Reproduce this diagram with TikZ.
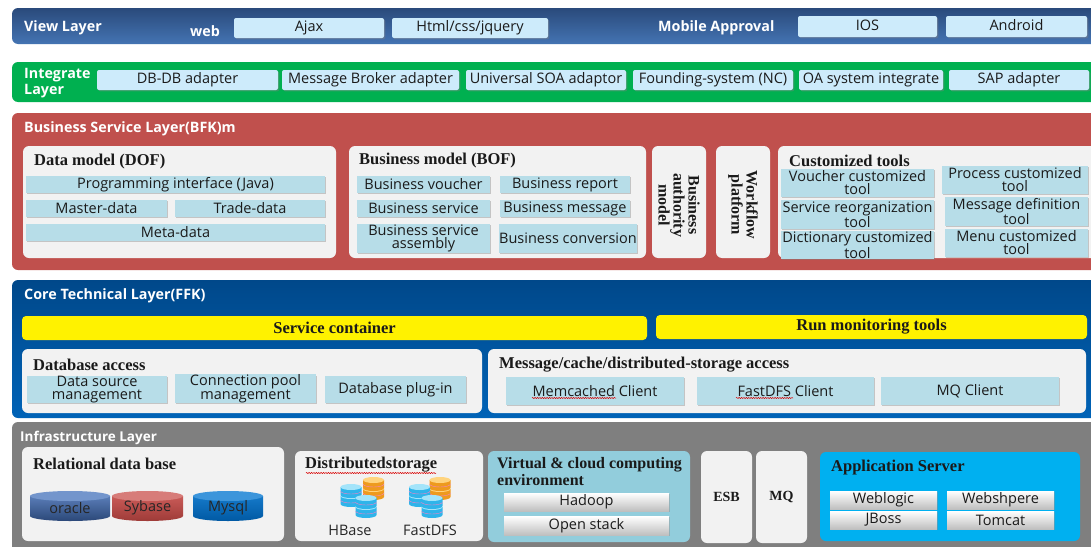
\documentclass[tikz,border=0pt]{standalone}
\usepackage{fontspec}
\setmainfont{Liberation Serif}
\newfontfamily\sansf{Open Sans}
\usetikzlibrary{shadows,decorations.pathmorphing}
\definecolor{viewA}{HTML}{2A4A7B}
\definecolor{viewB}{HTML}{4474B3}
\definecolor{intG}{HTML}{00B050}
\definecolor{busR}{HTML}{C0504D}
\definecolor{coreA}{HTML}{00488A}
\definecolor{coreB}{HTML}{0063B7}
\definecolor{infraG}{HTML}{7F7F7F}
\definecolor{panelG}{HTML}{F2F2F2}
\definecolor{itemV}{HTML}{CDEBFB}
\definecolor{itemB}{HTML}{B7DDE8}
\definecolor{virtB}{HTML}{92CDDC}
\definecolor{appB}{HTML}{00B0F0}
\definecolor{txt}{HTML}{1A1A1A}
\definecolor{oraT}{HTML}{5A7DB8}
\definecolor{oraB}{HTML}{2B4878}
\definecolor{oraC}{HTML}{7395CC}
\definecolor{sybT}{HTML}{C95A57}
\definecolor{sybB}{HTML}{9E3B38}
\definecolor{sybC}{HTML}{D77C79}
\definecolor{myT}{HTML}{1579C9}
\definecolor{myB}{HTML}{0059A3}
\definecolor{myC}{HTML}{3C95DB}
\definecolor{cyD}{HTML}{2FB4EA}
\definecolor{cyL}{HTML}{A3E4FA}
\definecolor{orD}{HTML}{EE9A1E}
\definecolor{orL}{HTML}{FFD47E}
\newcommand\bx[7]{\node[box,#6,minimum width={(#4-(#2))*1pt},minimum height={(#5-(#3))*1pt}] (#1) at ({(#2+#4)/2},{(#3+#5)/2}) {#7};}
\newcommand\bigcyl[7]{%
  \path[#6] ({#1-#4},{#2}) -- ({#1-#4},{#3}) arc[start angle=180,end angle=360,x radius=#4pt,y radius=#5pt] -- ({#1+#4},{#2}) -- cycle;
  \path[#7] ({#1},{#2}) ellipse[x radius=#4pt,y radius=#5pt];}
\newcommand\dbdisk[4]{%
  \path[#3] ({#1-10.5},{#2}) -- ({#1-10.5},{#2+8}) arc[start angle=180,end angle=360,x radius=10.5pt,y radius=3pt] -- ({#1+10.5},{#2}) -- cycle;
  \draw[magenta!50,line width=0.4pt] ({#1-10.5},{#2+4}) arc[start angle=180,end angle=360,x radius=10.5pt,y radius=3pt];
  \path[#4] ({#1},{#2}) ellipse[x radius=10.5pt,y radius=3pt];}
\newcommand\dbstack[4]{\dbdisk{#1}{#2+9}{#3}{#4}\dbdisk{#1}{#2}{#3}{#4}}
\tikzset{
 box/.style={rectangle, inner sep=0pt, outer sep=0pt},
 layer/.style={rounded corners=6pt},
 lbl/.style={font=\sansf\bfseries\fontsize{14.3}{16}\selectfont, text=white, anchor=west, inner sep=0pt, align=left},
 ttl/.style={font=\bfseries\fontsize{16.5}{17}\selectfont, text=txt, inner sep=0pt, align=left},
 itm/.style={font=\sansf\fontsize{14.5}{13}\selectfont, text=txt, align=center},
 shd/.style={drop shadow={shadow xshift=1.3pt, shadow yshift=-1.3pt, opacity=0.4}},
 vitem/.style={itm, shd, fill=itemV, rounded corners=2pt, text height=10.5pt, text depth=3pt},
 bitem/.style={itm, shd, fill=itemB},
 gitem/.style={itm, shd, top color=white, bottom color=black!25},
 panel/.style={fill=panelG, rounded corners=6pt},
 dbtxt/.style={font=\sansf\fontsize{14.5}{14}\selectfont, text=black!85, inner sep=0pt},
 wavy/.style={draw=red!85!black, line width=0.5pt, decorate, decoration={snake, amplitude=0.6pt, segment length=2.4pt}},
}
\begin{document}
\begin{tikzpicture}[x=1pt,y=-1pt]
\useasboundingbox (0,0) rectangle (1091,546);
\clip (0,0) rectangle (1091,546);
\fill[white] (0,0) rectangle (1091,546);
% ---------------- View layer
\bx{view}{12}{8}{1106}{44}{layer, top color=viewA, bottom color=viewB}{}
\node[lbl] (viewl) at (24,27.5) {View Layer};
\node[lbl] (web) at (190,31) {web};
\bx{ajax}{234}{18}{384}{38}{vitem}{Ajax}
\bx{html}{392}{18}{548}{38}{vitem}{Html/css/jquery}
\node[lbl] (mob) at (658,27.5) {Mobile Approval};
\bx{ios}{798}{16}{937}{37}{vitem}{IOS}
\bx{android}{946}{16}{1087}{37}{vitem}{Android}
% ---------------- Integrate layer
\bx{integ}{12}{62}{1106}{102}{layer, fill=intG}{}
\node[lbl] (integl) at (24,83.5) {Integrate\\Layer};
\bx{dbdb}{97}{70}{278}{90}{vitem}{DB-DB adapter}
\bx{broker}{282}{70}{459}{90}{vitem}{Message Broker adapter}
\bx{soa}{466}{70}{626}{90}{vitem}{Universal SOA adaptor}
\bx{found}{633}{70}{793}{90}{vitem}{Founding-system (NC)}
\bx{oasys}{799}{70}{943}{90}{vitem}{OA system integrate}
\bx{sap}{949}{70}{1089}{90}{vitem}{SAP adapter}
% ---------------- Business service layer
\bx{bus}{12}{113}{1106}{270}{layer, fill=busR}{}
\node[lbl] (busl) at (24,128.5) {Business Service Layer(BFK)m};
\bx{dm}{23}{146}{336}{258}{panel}{}
\bx{bm}{349}{146}{646}{258}{panel}{}
\bx{auth}{652}{146}{706}{258}{panel}{}
\bx{wf}{716}{146}{770}{258}{panel}{}
\bx{ct}{778}{146}{1110}{258}{panel}{}
\node[ttl, anchor=west] (dmt) at (34,161.5) {Data model (DOF)};
\node[ttl, anchor=west] (bmt) at (359,160.5) {Business model (BOF)};
\node[ttl, anchor=west] (ctt) at (789,161) {Customized tools};
\node[ttl, rotate=-90, align=center, anchor=center, font=\bfseries\fontsize{16}{15}\selectfont] (autht) at (679,205) {Business\\authority\\model};
\node[ttl, rotate=-90, align=center, anchor=center, font=\bfseries\fontsize{16}{15}\selectfont] (wft) at (743,205) {Workflow\\platform};
\bx{prog}{26}{176}{325}{193}{bitem}{Programming interface (Java)}
\bx{master}{26}{200}{167}{217}{bitem}{Master-data}
\bx{trade}{175}{200}{325}{217}{bitem}{Trade-data}
\bx{meta}{26}{224}{325}{241}{bitem}{Meta-data}
\bx{bvou}{357}{176}{490}{193}{bitem}{Business voucher}
\bx{brep}{500}{176}{630}{193}{bitem}{Business report}
\bx{bser}{357}{200}{490}{217}{bitem}{Business service}
\bx{bmsg}{500}{200}{630}{217}{bitem}{Business message}
\bx{bass}{357}{224}{490}{253}{bitem}{Business service\\assembly}
\bx{bconv}{500}{224}{636}{253}{bitem}{Business conversion}
\bx{vtool}{781}{169}{934}{197}{bitem}{Voucher customized\\tool}
\bx{ptool}{942}{166}{1088}{194}{bitem}{Process customized\\tool}
\bx{stool}{781}{200}{934}{229}{bitem}{Service reorganization\\tool}
\bx{mtool}{945}{197}{1088}{226}{bitem}{Message definition\\tool}
\bx{dtool}{781}{231}{934}{259}{bitem}{Dictionary customized\\tool}
\bx{metool}{945}{229}{1088}{257}{bitem}{Menu customized\\tool}
% ---------------- Core technical layer
\bx{core}{12}{280}{1106}{418}{layer, top color=coreA, bottom color=coreB}{}
\node[lbl] (corel) at (24,295.5) {Core Technical Layer(FFK)};
\bx{svc}{22}{316}{647}{340}{rounded corners=4pt, fill=yellow, ttl}{Service container}
\bx{run}{656}{315}{1087}{339}{rounded corners=4pt, fill=yellow, ttl}{Run monitoring tools}
\bx{dba}{22}{349}{482}{413}{panel}{}
\bx{mca}{488}{349}{1086}{413}{panel}{}
\node[ttl, anchor=west] (dbat) at (33,364.5) {Database access};
\node[ttl, anchor=west] (mcat) at (499,364.5) {Message/cache/distributed-storage access};
\bx{dsm}{27}{376}{167}{403}{bitem}{Data source\\management}
\bx{cpm}{175}{375}{316}{402}{bitem}{Connection pool\\management}
\bx{dbp}{325}{376}{466}{403}{bitem}{Database plug-in}
\bx{memc}{506}{377}{684}{405}{bitem}{Memcached Client}
\bx{fdfs}{697}{377}{874}{405}{bitem}{FastDFS Client}
\bx{mqc}{881}{377}{1059}{405}{bitem}{MQ Client}
\draw[wavy] (532,398) -- (616,398);
\draw[wavy] (736,398) -- (793,398);
% ---------------- Infrastructure layer
\bx{infra}{12}{422}{1106}{560}{layer, fill=infraG}{}
\node[lbl, font=\sansf\bfseries\fontsize{13.5}{16}\selectfont] (infral) at (20,437.5) {Infrastructure Layer};
\bx{rdb}{22}{447}{284}{541}{panel}{}
\node[ttl, anchor=west] (rdbt) at (33,463.5) {Relational data base};
\bigcyl{70}{496}{516}{40}{5}{top color=oraT, bottom color=oraB}{fill=oraC}
\bigcyl{147.5}{496}{516}{35.5}{5}{top color=sybT, bottom color=sybB}{fill=sybC}
\bigcyl{228}{496}{516}{35}{5}{top color=myT, bottom color=myB}{fill=myC}
\node[dbtxt] (oracle) at (70,508) {oracle};
\node[dbtxt] (sybase) at (147.5,508) {Sybase};
\node[dbtxt] (mysql) at (228,508) {Mysql};
\bx{dst}{295}{451}{483}{541}{panel}{}
\node[ttl, anchor=west] (dstt) at (305,465) {Distributedstorage};
\draw[wavy] (306,473) -- (436,473);
\dbstack{373.5}{480}{fill=orD}{fill=orL}
\dbstack{351}{487}{fill=cyD}{fill=cyL}
\dbstack{366}{498}{fill=cyD}{fill=cyL}
\dbstack{440}{480}{fill=orD}{fill=orL}
\dbstack{419.5}{487}{fill=cyD}{fill=cyL}
\dbstack{432}{498}{fill=cyD}{fill=cyL}
\node[dbtxt] (hbase) at (350,530) {HBase};
\node[dbtxt] (fastdfs) at (430,530) {FastDFS};
\bx{virt}{488}{451}{690}{542}{panel, fill=virtB}{}
\node[ttl, anchor=north west, font=\bfseries\fontsize{16}{17}\selectfont] (virtt) at (497,457) {Virtual \& cloud computing\\environment};
\bx{hadoop}{504}{493}{669}{511}{gitem}{Hadoop}
\bx{ostack}{504}{516}{669}{535}{gitem}{Open stack}
\bx{esb}{701}{451}{752}{543}{panel, ttl, font=\bfseries\fontsize{14}{14}\selectfont}{ESB}
\bx{mq}{756}{451}{807}{543}{panel, ttl, font=\bfseries\fontsize{14}{14}\selectfont}{MQ}
\bx{app}{820}{452}{1080}{541}{panel, fill=appB}{}
\node[ttl, anchor=west] (appt) at (831,468) {Application Server};
\bx{weblogic}{830}{491}{937}{509}{gitem}{Weblogic}
\bx{websphere}{947}{491}{1054}{509}{gitem}{Webshpere}
\bx{jboss}{830}{511}{937}{529}{gitem}{JBoss}
\bx{tomcat}{947}{511}{1054}{529}{gitem}{Tomcat}
\end{tikzpicture}
\end{document}
